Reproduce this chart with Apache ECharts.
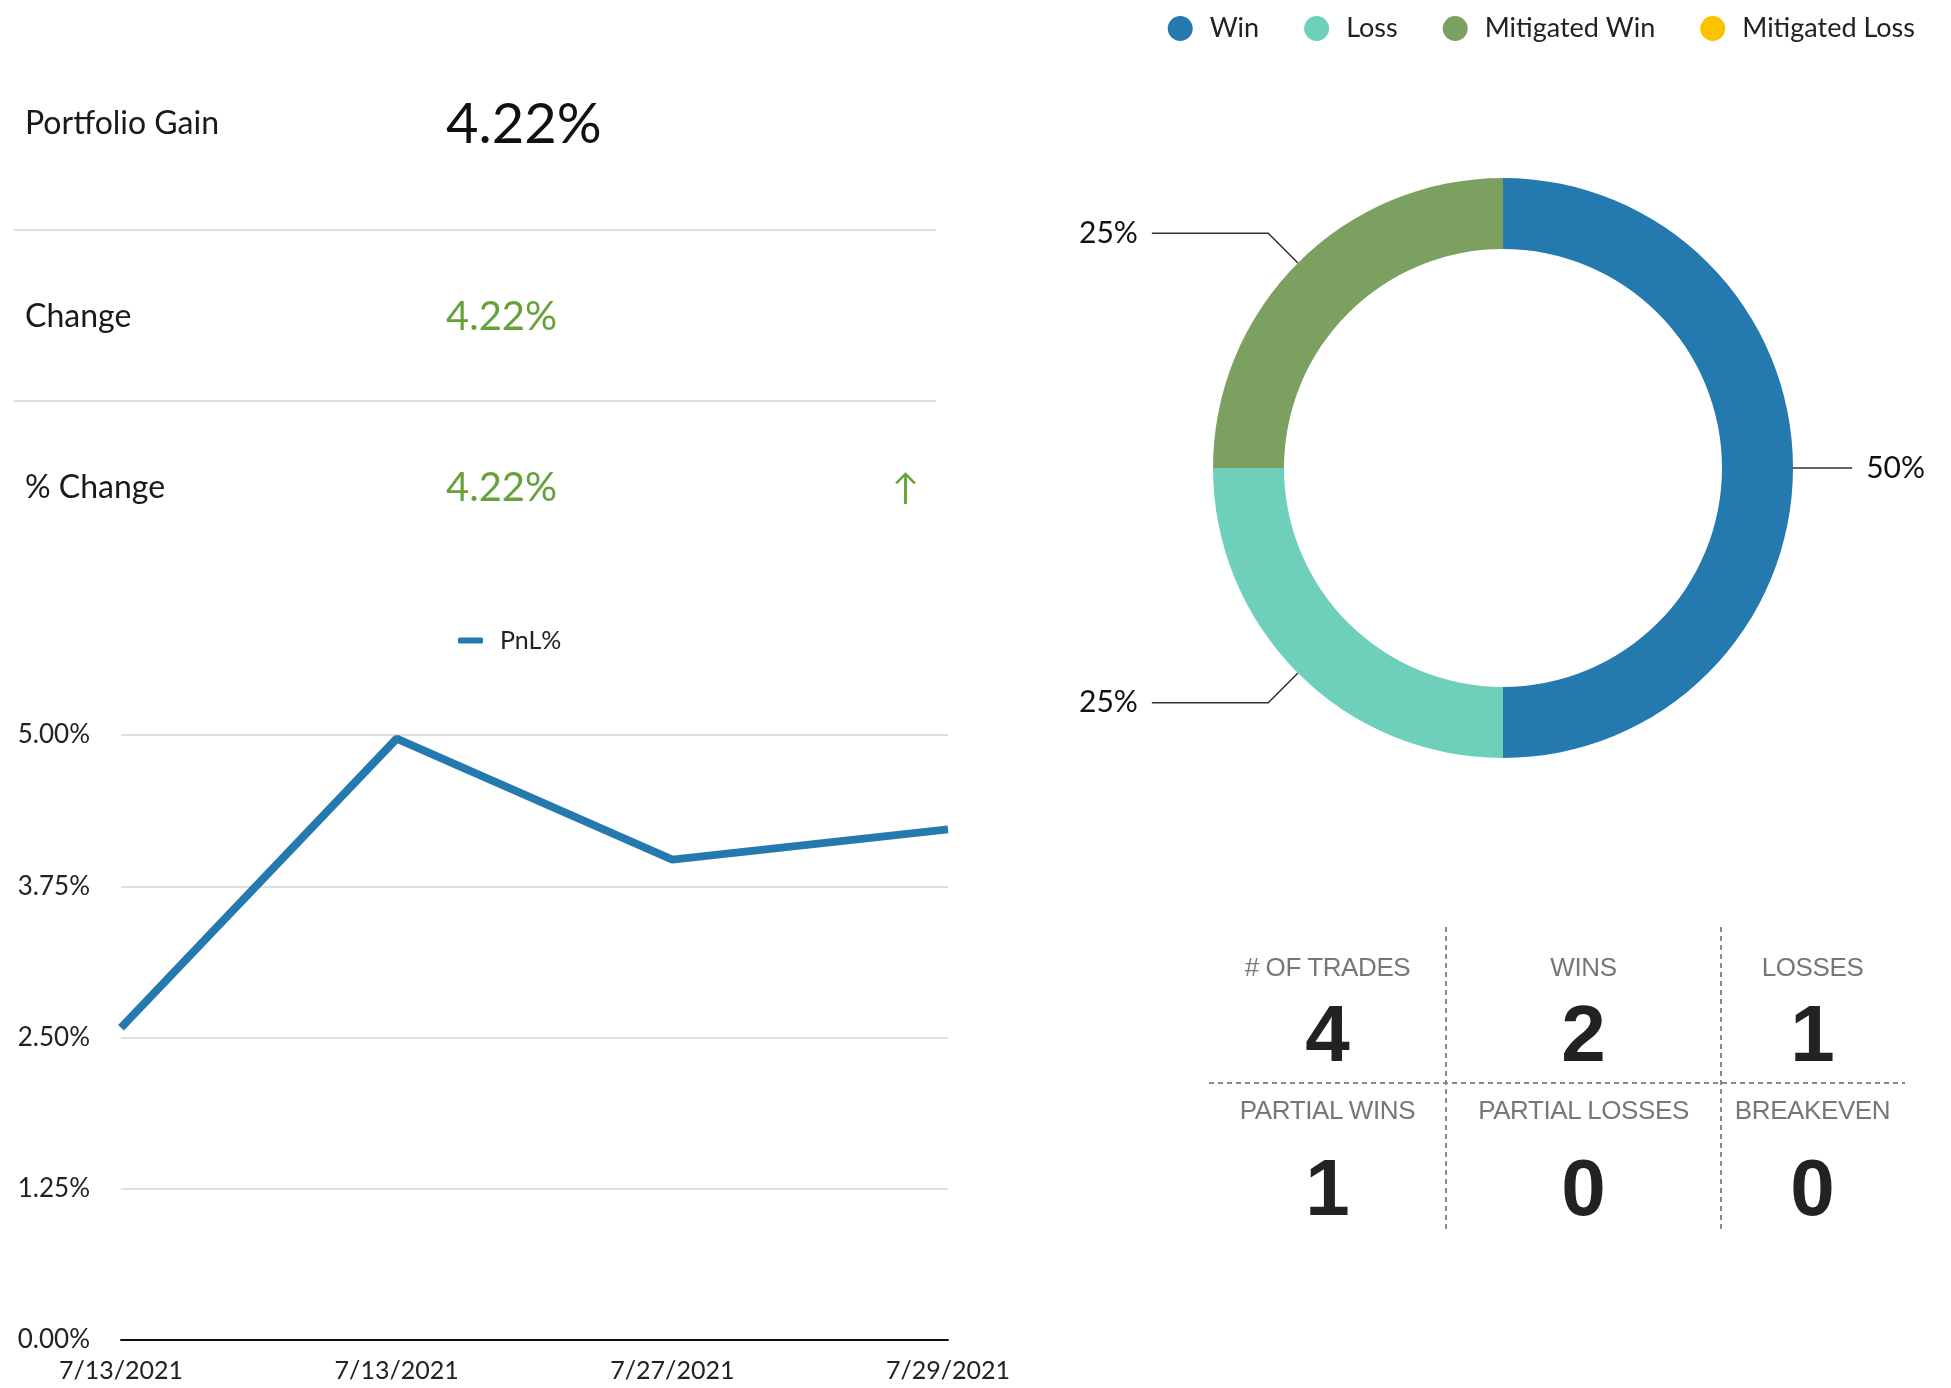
<!DOCTYPE html>
<html>
<head>
<meta charset="utf-8">
<title>Portfolio</title>
<script src="https://cdn.jsdelivr.net/npm/echarts@6/dist/echarts.min.js"></script>
<style>
  body { margin: 0; background: #fff; }
  #main { position: absolute; left: 0; top: 0; width: 1951px; height: 1388px; }
  .txt { position: absolute; white-space: nowrap; line-height: 1; }
  .kpi { font-family: Lato, sans-serif; color: #1a1a1a; }
  .rule { position: absolute; left: 14px; width: 922px; height: 2px; background: #dedede; }
  .stat { font-family: "Liberation Sans", Arial, sans-serif; text-align: center; }
  .vdash { position: absolute; width: 2px; background: repeating-linear-gradient(to bottom, #8a8a8a 0 5px, transparent 5px 9px); }
  .hdash { position: absolute; height: 2px; background: repeating-linear-gradient(to right, #8a8a8a 0 5px, transparent 5px 9px); }
</style>
</head>
<body>
<div id="main"></div>
<div id="overlay"></div>
<script>
// 数据
var dates = ['7/13/2021', '7/13/2021', '7/27/2021', '7/29/2021'];
var pnl = [2.58, 4.97, 3.97, 4.22];

var outcomeNames = ['Win', 'Loss', 'Mitigated Win', 'Mitigated Loss'];
var outcomeCounts = [2, 1, 1, 0];

var kpiLabels = ['Portfolio Gain', 'Change', '% Change'];
var kpiValues = ['4.22%', '4.22%', '4.22%'];

var statLabels = ['# OF TRADES', 'WINS', 'LOSSES', 'PARTIAL WINS', 'PARTIAL LOSSES', 'BREAKEVEN'];
var statValues = [4, 2, 1, 1, 0, 0];

var palette = ['#2479ae', '#6ecfba', '#7ba05f', '#fcc200'];
var green = '#67a13a';

// 左上角的指标
var overlay = document.getElementById('overlay');
var html = '';
var kpiY = [122, 315, 486];
for (var i = 0; i < kpiLabels.length; i++) {
    html += '<div class="txt kpi" style="left:25px;top:' + (kpiY[i] - 16) + 'px;font-size:32px;">' + kpiLabels[i] + '</div>';
    if (i === 0) {
        html += '<div class="txt kpi" style="left:446px;top:' + (kpiY[i] - 28) + 'px;font-size:56px;color:#111;">' + kpiValues[i] + '</div>';
    } else {
        html += '<div class="txt kpi" style="left:446px;top:' + (kpiY[i] - 20) + 'px;font-size:40px;color:' + green + ';">' + kpiValues[i] + '</div>';
    }
}
html += '<div class="txt kpi" style="left:892px;top:468px;font-size:36px;color:' + green + ';">&#8593;</div>';
html += '<div class="rule" style="top:229px;"></div>';
html += '<div class="rule" style="top:400px;"></div>';

// 统计表格
var colX = [1209, 1446, 1721, 1904];
var labelY = [967, 1110];
var numY = [1034, 1188];
for (var k = 0; k < statLabels.length; k++) {
    var c = k % 3, r = Math.floor(k / 3);
    var left = colX[c], w = colX[c + 1] - colX[c];
    html += '<div class="txt stat" style="left:' + left + 'px;width:' + w + 'px;top:' + (labelY[r] - 13) + 'px;font-size:26px;color:#777;letter-spacing:-0.4px;">' + statLabels[k] + '</div>';
    html += '<div class="txt stat" style="left:' + left + 'px;width:' + w + 'px;top:' + (numY[r] - 40) + 'px;font-size:80px;font-weight:bold;color:#222;">' + statValues[k] + '</div>';
}
html += '<div class="vdash" style="left:1445px;top:927px;height:306px;"></div>';
html += '<div class="vdash" style="left:1720px;top:927px;height:306px;"></div>';
html += '<div class="hdash" style="left:1209px;top:1082px;width:696px;"></div>';
overlay.innerHTML = html;

// 图表
var myChart = echarts.init(document.getElementById('main'));

var pieData = outcomeNames.map(function (name, idx) {
    var item = { name: name, value: outcomeCounts[idx] };
    if (outcomeCounts[idx] === 0) {
        item.label = { show: false };
        item.labelLine = { show: false };
    }
    return item;
});

myChart.setOption({
    animation: false,
    color: palette,
    legend: [
        {
            data: ['PnL%'],
            left: 453,
            top: 623,
            icon: 'roundRect',
            itemWidth: 25,
            itemHeight: 6,
            textStyle: { fontFamily: 'Lato', fontSize: 25, color: '#222', padding: [0, 0, 0, 12] }
        },
        {
            data: outcomeNames,
            right: 31,
            top: 10,
            icon: 'circle',
            itemWidth: 25,
            itemHeight: 25,
            itemGap: 45,
            textStyle: { fontFamily: 'Lato', fontSize: 27, color: '#222', padding: [0, 0, 0, 12] }
        }
    ],
    grid: {
        left: 121,
        right: 1003,
        top: 735,
        bottom: 48
    },
    xAxis: {
        type: 'category',
        data: dates,
        boundaryGap: false,
        axisTick: { show: false },
        axisLine: { lineStyle: { color: '#111', width: 2 } },
        axisLabel: { fontFamily: 'Lato', fontSize: 25, color: '#222', margin: 18 }
    },
    yAxis: {
        type: 'value',
        min: 0,
        max: 5,
        interval: 1.25,
        axisLine: { show: false },
        axisTick: { show: false },
        splitLine: { lineStyle: { color: '#d6d6d6', width: 1.5 } },
        axisLabel: {
            fontFamily: 'Lato', fontSize: 26, color: '#222', margin: 31,
            formatter: function (v) { return v.toFixed(2) + '%'; }
        }
    },
    series: [
        {
            name: 'PnL%',
            type: 'line',
            data: pnl,
            symbol: 'none',
            lineStyle: { width: 8, color: palette[0] },
            itemStyle: { color: palette[0] }
        },
        {
            name: 'Outcome',
            type: 'pie',
            left: 1079,
            right: 26,
            top: 0,
            bottom: 0,
            center: [424, 468],
            radius: [219, 290],
            startAngle: 90,
            data: pieData,
            label: {
                formatter: '{d}%',
                fontFamily: 'Lato',
                fontSize: 30,
                color: '#111',
                alignTo: 'edge',
                edgeDistance: 0,
                distanceToLabelLine: 14,
                overflow: 'none'
            },
            labelLine: {
                length: 42,
                length2: 10,
                lineStyle: { color: '#333', width: 1.5 }
            }
        }
    ]
});
</script>
</body>
</html>
